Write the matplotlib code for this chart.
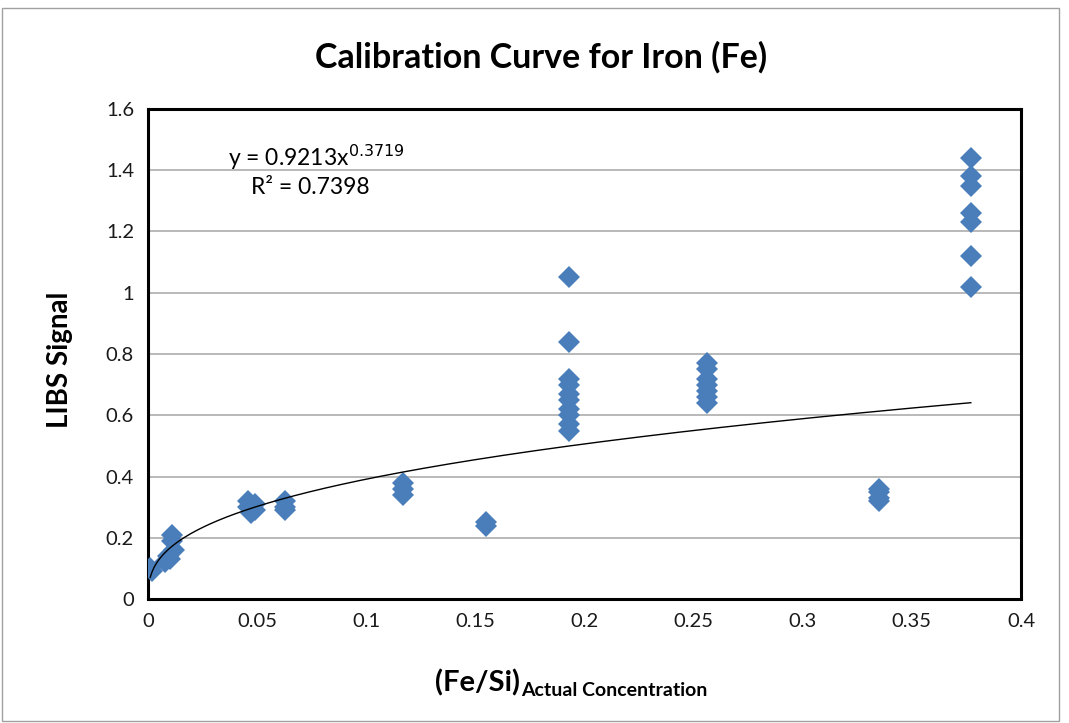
import numpy as np
import matplotlib
matplotlib.use("Agg")
import matplotlib.pyplot as plt
from matplotlib.patches import Rectangle

# Data
conc = [0.001, 0.002, 0.008, 0.009, 0.010, 0.011, 0.011, 0.012,
        0.046, 0.046, 0.047, 0.049, 0.049,
        0.063, 0.063, 0.063,
        0.117, 0.117, 0.117,
        0.155, 0.155,
        0.193, 0.193, 0.193, 0.193, 0.193, 0.193, 0.193, 0.193, 0.193, 0.193,
        0.256, 0.256, 0.256, 0.256, 0.256, 0.256, 0.256,
        0.335, 0.335, 0.335, 0.335,
        0.377, 0.377, 0.377, 0.377, 0.377, 0.377, 0.377]
signal = [0.10, 0.09, 0.12, 0.14, 0.13, 0.19, 0.21, 0.16,
          0.30, 0.32, 0.28, 0.29, 0.31,
          0.29, 0.30, 0.32,
          0.34, 0.36, 0.38,
          0.24, 0.25,
          1.05, 0.84, 0.72, 0.70, 0.67, 0.65, 0.62, 0.60, 0.57, 0.55,
          0.77, 0.75, 0.72, 0.70, 0.68, 0.66, 0.64,
          0.36, 0.35, 0.33, 0.32,
          1.44, 1.38, 1.35, 1.26, 1.23, 1.12, 1.02]
fit_a = 0.9213
fit_b = 0.3719
r2 = 0.7398
xticks = [0, 0.05, 0.1, 0.15, 0.2, 0.25, 0.3, 0.35, 0.4]
xticklabels = ["0", "0.05", "0.1", "0.15", "0.2", "0.25", "0.3", "0.35", "0.4"]
yticks = [0, 0.2, 0.4, 0.6, 0.8, 1.0, 1.2, 1.4, 1.6]
yticklabels = ["0", "0.2", "0.4", "0.6", "0.8", "1", "1.2", "1.4", "1.6"]

plt.rcParams['font.family'] = ['Lato', 'DejaVu Sans']

W, H = 1069, 723
fig = plt.figure(figsize=(W / 100, H / 100), dpi=100)
fig.patch.set_facecolor('white')

L, R, T, B = 148, 1021, 109, 599
ax = fig.add_axes([L / W, 1 - B / H, (R - L) / W, (B - T) / H])

ax.set_xlim(0, 0.4)
ax.set_ylim(0, 1.6)
ax.set_xticks(xticks)
ax.set_xticklabels(xticklabels)
ax.set_yticks(yticks)
ax.set_yticklabels(yticklabels)
ax.tick_params(length=0, labelsize=14.5, pad=10, colors='#1a1a1a')
ax.grid(axis='y', color='#a6a6a6', linewidth=1.1)
ax.set_axisbelow(True)
for s in ax.spines.values():
    s.set_linewidth(2.2)
    s.set_color('black')

ax.plot(conc, signal, linestyle='none', marker='D', markersize=11.5,
        color='#4a7ebb', markeredgewidth=0, zorder=3)

xs = np.linspace(min(conc), max(conc), 400)
ax.plot(xs, fit_a * xs ** fit_b, color='black', linewidth=1.0, zorder=4)

fig.text(316 / W, 1 - 157 / H, r'y = 0.9213x$^{0.3719}$', ha='center', va='center', fontsize=16.5)
fig.text(310 / W, 1 - 187 / H, 'R² = 0.7398', ha='center', va='center', fontsize=16.5)

fig.text(541 / W, 1 - 57 / H, 'Calibration Curve for Iron (Fe)', ha='center', va='center',
         fontsize=24.5, fontweight='bold')
fig.text(60 / W, 1 - 360 / H, 'LIBS Signal', rotation=90, ha='center', va='center',
         fontsize=20, fontweight='bold')
fig.text(520 / W, 1 - 683 / H, '(Fe/Si)', ha='right', va='center', fontsize=21, fontweight='bold')
fig.text(521 / W, 1 - 690 / H, 'Actual Concentration', ha='left', va='center', fontsize=14,
         fontweight='bold')

fig.patches.append(Rectangle((2 / W, 2 / H), (W - 12) / W, (H - 10) / H,
                             transform=fig.transFigure, fill=False,
                             edgecolor='#a0a0a0', linewidth=1))

fig.savefig('out.png', dpi=100, facecolor='white')
